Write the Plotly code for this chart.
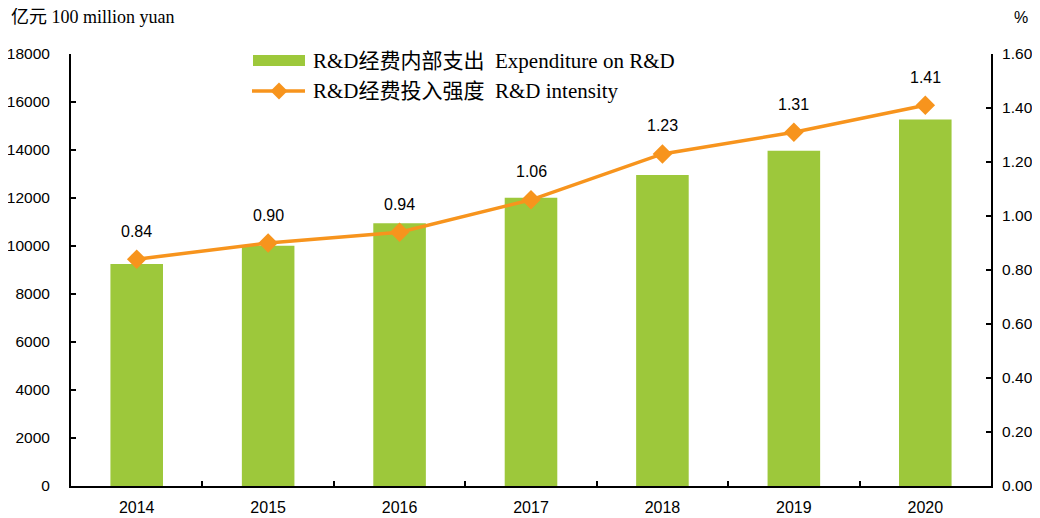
import plotly.graph_objects as go

years = ["2014", "2015", "2016", "2017", "2018", "2019", "2020"]
expenditure = [9254, 10014, 10945, 12013, 12955, 13971, 15271]
intensity = [0.84, 0.90, 0.94, 1.06, 1.23, 1.31, 1.41]
left_ticks = [0, 2000, 4000, 6000, 8000, 10000, 12000, 14000, 16000, 18000]
right_ticks = [0.0, 0.2, 0.4, 0.6, 0.8, 1.0, 1.2, 1.4, 1.6]

GREEN = "#9DC83B"
ORANGE = "#F7941D"
SERIF = "Times New Roman, Liberation Serif, Noto Sans CJK SC, serif"
SANS = "Arial, Liberation Sans, sans-serif"

fig = go.Figure()
fig.add_trace(go.Bar(x=years, y=expenditure, marker=dict(color=GREEN, line=dict(width=0)),
                     width=0.4, yaxis="y", showlegend=False))
fig.add_trace(go.Scatter(x=years, y=intensity, yaxis="y2", mode="lines+markers",
                         line=dict(color=ORANGE, width=3.5),
                         marker=dict(symbol="diamond", size=15, color=ORANGE),
                         showlegend=False))

for i, v in enumerate(intensity):
    fig.add_annotation(x=i, y=v, xref="x", yref="y2", text=f"{v:.2f}", showarrow=False,
                       yshift=28, font=dict(family=SANS, size=16, color="#000"))

# Manual layout helpers (screen pixel -> paper); plot area spans x 71..991, y 54..486 on screen
W, H = 920, 432
def px(x):
    return (x - 71) / W
def py(y):
    return (486 - y) / H

# Axis titles
fig.add_annotation(xref="paper", yref="paper", x=px(10), y=py(17), xanchor="left", yanchor="middle",
                   text="亿元 100 million yuan", showarrow=False, borderpad=0,
                   font=dict(family=SERIF, size=18, color="#000"))
fig.add_annotation(xref="paper", yref="paper", x=px(1021), y=py(17), xanchor="center", yanchor="middle",
                   text="%", showarrow=False, borderpad=0, font=dict(family=SANS, size=16, color="#000"))

# Manual legend
fig.add_shape(type="rect", xref="paper", yref="paper", x0=px(253), x1=px(305), y0=py(66), y1=py(55),
              fillcolor=GREEN, line=dict(width=0))
fig.add_annotation(xref="paper", yref="paper", x=px(311), y=py(61), xanchor="left", yanchor="middle",
                   text="R&D经费内部支出  Expenditure on R&D", showarrow=False,
                   font=dict(family=SERIF, size=21, color="#000"))
fig.add_shape(type="line", xref="paper", yref="paper", x0=px(252), x1=px(305), y0=py(91), y1=py(91),
              line=dict(color=ORANGE, width=3.5))
cx, cy, r = 279, 91, 8.5
fig.add_shape(type="path", xref="paper", yref="paper",
              path=f"M {px(cx)} {py(cy - r)} L {px(cx + r)} {py(cy)} L {px(cx)} {py(cy + r)} L {px(cx - r)} {py(cy)} Z",
              fillcolor=ORANGE, line=dict(color=ORANGE, width=0))
fig.add_annotation(xref="paper", yref="paper", x=px(311), y=py(91), xanchor="left", yanchor="middle",
                   text="R&D经费投入强度  R&D intensity", showarrow=False,
                   font=dict(family=SERIF, size=21, color="#000"))

fig.update_layout(
    width=1040, height=518,
    margin=dict(l=63, r=57, t=46, b=40, autoexpand=False),
    plot_bgcolor="white", paper_bgcolor="white",
    bargap=0.6,
    xaxis=dict(type="category", range=[-0.5, 6.5], showline=True, linecolor="#000", linewidth=2,
               ticks="inside", ticklen=5, tickwidth=1.5, tickcolor="#000", tickson="boundaries",
               showgrid=False, ticklabelstandoff=6, tickangle=0, automargin=False,
               tickfont=dict(family=SANS, size=16, color="#000")),
    yaxis=dict(range=[0, 18000], tickvals=left_ticks, tickformat="d", showline=True, linecolor="#000",
               linewidth=2, ticks="inside", ticklen=5, tickwidth=1.5, tickcolor="#000", showgrid=False,
               zeroline=False, ticklabelstandoff=16, automargin=False,
               tickfont=dict(family=SANS, size=15.5, color="#000")),
    yaxis2=dict(range=[0, 1.6], tickvals=right_ticks, tickformat=".2f", overlaying="y", side="right",
                showline=True, linecolor="#000", linewidth=2, ticks="inside", ticklen=5,
                tickwidth=1.5, tickcolor="#000", showgrid=False, zeroline=False,
                ticklabelstandoff=6, automargin=False,
                tickfont=dict(family=SANS, size=15.5, color="#000")),
)

fig.write_html("out.html")
